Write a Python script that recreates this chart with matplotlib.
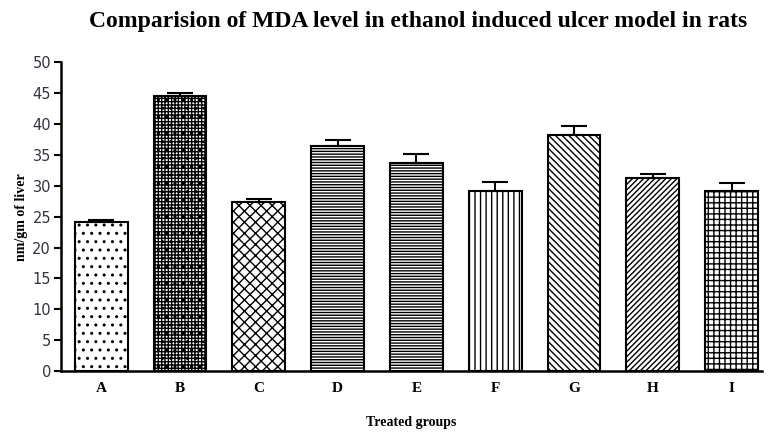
import matplotlib.pyplot as plt

groups = ["A", "B", "C", "D", "E", "F", "G", "H", "I"]
mda = [24.2, 44.6, 27.4, 36.4, 33.7, 29.1, 38.2, 31.2, 29.1]
sem = [0.2, 0.4, 0.5, 1.0, 1.5, 1.5, 1.5, 0.7, 1.4]
hatches = ["..", "+++++..", "xxx", "------", "------", "|||", "\\\\\\\\\\", "//////", "+++"]

plt.rcParams["hatch.linewidth"] = 1.0

fig = plt.figure(figsize=(7.69, 4.32), dpi=100)
ax = fig.add_axes([0.079, 0.141, 0.912, 0.715])

x = list(range(len(groups)))
bars = ax.bar(x, mda, width=0.67, color="white", edgecolor="black",
              linewidth=1.5, zorder=2)
for b, h in zip(bars, hatches):
    b.set_hatch(h)

ax.errorbar(x, mda, yerr=[[0] * len(sem), sem], fmt="none", ecolor="black",
            elinewidth=1.5, capsize=9.5, capthick=1.5, zorder=3)

ax.set_xlim(-0.514, 8.387)
ax.set_ylim(0, 50)
ax.set_yticks(range(0, 51, 5))
ax.set_xticks(x)
ax.set_xticklabels(groups, fontfamily="Liberation Serif", fontweight="bold",
                   fontsize=11)
ax.tick_params(axis="x", length=0, pad=8)
ax.tick_params(axis="y", length=5, width=1.5, labelsize=10.5, pad=2,
               labelcolor="#333344")

for side in ["top", "right"]:
    ax.spines[side].set_visible(False)
ax.spines["left"].set_linewidth(1.8)
ax.spines["bottom"].set_linewidth(1.8)

ax.set_ylabel("nm/gm of liver", fontfamily="Liberation Serif",
              fontweight="bold", fontsize=10, labelpad=3)
fig.text(0.535, 0.023, "Treated groups", ha="center", va="center",
         fontfamily="Liberation Serif", fontweight="bold", fontsize=10)
fig.suptitle("Comparision of MDA level in ethanol induced ulcer model in rats",
             fontfamily="Liberation Serif", fontweight="bold", fontsize=17,
             x=0.544, y=0.975)

fig.savefig("out.png", dpi=100)
